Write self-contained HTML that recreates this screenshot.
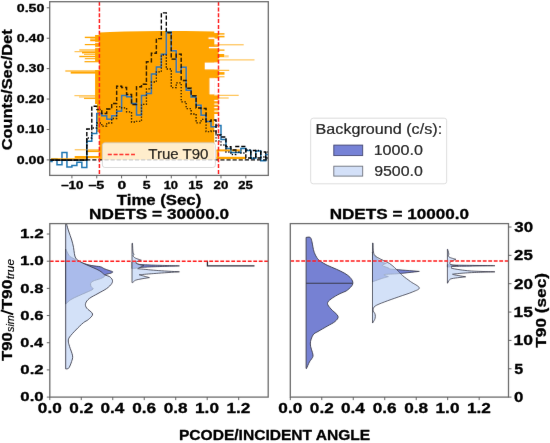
<!DOCTYPE html><html><head><meta charset="utf-8"><style>html,body{margin:0;padding:0;background:#fff;overflow:hidden}svg{will-change:transform}</style></head><body><svg width="550" height="443" viewBox="0 0 550 443" style="display:block">
<rect width="550" height="443" fill="#fff"/>
<defs><filter id="bl" x="0" y="0" width="550" height="443" filterUnits="userSpaceOnUse"><feConvolveMatrix order="3" kernelMatrix="0.00163 0.03713 0.00163 0.03713 0.84497 0.03713 0.00163 0.03713 0.00163" edgeMode="duplicate"/></filter><clipPath id="ctop"><rect x="49.7" y="1.7" width="218.60000000000002" height="173.70000000000002"/></clipPath><clipPath id="cbl"><rect x="49.8" y="223.6" width="218.39999999999998" height="173.50000000000003"/></clipPath><clipPath id="cbr"><rect x="290.3" y="223.6" width="218.2" height="173.50000000000003"/></clipPath></defs>
<g filter="url(#bl)">
<g clip-path="url(#ctop)">
<path d="M95.1,61.5 L95.1,34.9 L99.5,34.9 L99.5,32.6 L110,31.9 L125,31.4 L160,31.0 L185,30.9 L200,31.2 L214.3,31.6 L214.3,160 L99.4,160 L99.4,132 L97.0,132 L97.0,104 L95.1,104 L95.1,70.1 L99.4,70.1 L99.4,61.5Z" fill="#ffa500"/>
<rect x="214.0" y="33.2" width="4.599999999999994" height="5.399999999999999" fill="#ffa500" fill-opacity="1"/>
<rect x="214.0" y="45.2" width="4.599999999999994" height="17.4" fill="#ffa500" fill-opacity="1"/>
<rect x="214.0" y="69.4" width="4.599999999999994" height="8.799999999999997" fill="#ffa500" fill-opacity="1"/>
<rect x="214.0" y="96.0" width="4.599999999999994" height="18.0" fill="#ffa500" fill-opacity="1"/>
<rect x="208.5" y="37.5" width="6.300000000000011" height="1.3999999999999986" fill="#fff"/>
<rect x="209" y="47.0" width="9.599999999999994" height="1.2999999999999972" fill="#fff"/>
<rect x="204.8" y="62.6" width="13.799999999999983" height="6.800000000000004" fill="#fff"/>
<rect x="209.5" y="78.2" width="5.300000000000011" height="16.200000000000003" fill="#fff"/>
<rect x="214.3" y="100" width="4.299999999999983" height="1.2000000000000028" fill="#fff"/>
<rect x="214.3" y="103.5" width="4.299999999999983" height="1.2000000000000028" fill="#fff"/>
<rect x="214.3" y="107" width="4.299999999999983" height="1.2000000000000028" fill="#fff"/>
<rect x="214.3" y="110.5" width="4.299999999999983" height="1.2000000000000028" fill="#fff"/>
<rect x="90" y="42.2" width="9.400000000000006" height="0.7999999999999972" fill="#fff"/>
<rect x="92" y="47.2" width="7.400000000000006" height="0.7999999999999972" fill="#fff"/>
<rect x="214" y="33.20" width="10.5" height="1.4" fill="#ffa500" fill-opacity="1"/>
<rect x="214" y="35.80" width="10.5" height="1.6" fill="#ffa500" fill-opacity="1"/>
<rect x="214" y="44.30" width="29.69999999999999" height="1.0" fill="#ffa500" fill-opacity="0.8"/>
<rect x="214" y="49.45" width="10.5" height="1.3" fill="#ffa500" fill-opacity="1"/>
<rect x="214" y="54.00" width="10.199999999999989" height="3.2" fill="#ffa500" fill-opacity="1"/>
<rect x="224.2" y="55.20" width="4.5" height="2.2" fill="#ffa500" fill-opacity="0.45"/>
<rect x="214" y="59.40" width="40.5" height="1.0" fill="#ffa500" fill-opacity="0.75"/>
<rect x="214" y="69.80" width="15.199999999999989" height="1.0" fill="#ffa500" fill-opacity="0.9"/>
<rect x="214" y="72.10" width="10.5" height="2.6" fill="#ffa500" fill-opacity="1"/>
<rect x="214" y="76.30" width="10.5" height="1.0" fill="#ffa500" fill-opacity="0.9"/>
<rect x="214" y="94.80" width="24.69999999999999" height="1.0" fill="#ffa500" fill-opacity="0.8"/>
<rect x="214" y="97.50" width="14.699999999999989" height="1.0" fill="#ffa500" fill-opacity="0.8"/>
<rect x="216.5" y="149.40" width="25.5" height="2.0" fill="#ffa500" fill-opacity="1"/>
<rect x="216.5" y="156.80" width="29.30000000000001" height="2.2" fill="#ffa500" fill-opacity="1"/>
<rect x="84.8" y="36.70" width="11.200000000000003" height="1.4" fill="#ffa500" fill-opacity="1"/>
<rect x="90.2" y="38.20" width="5.799999999999997" height="1.0" fill="#ffa500" fill-opacity="0.7"/>
<rect x="90.2" y="39.30" width="5.799999999999997" height="2.0" fill="#ffa500" fill-opacity="1"/>
<rect x="84.8" y="44.00" width="11.200000000000003" height="1.2" fill="#ffa500" fill-opacity="1"/>
<rect x="79.3" y="49.45" width="16.700000000000003" height="1.1" fill="#ffa500" fill-opacity="1"/>
<rect x="74.5" y="51.20" width="21.5" height="1.0" fill="#ffa500" fill-opacity="0.8"/>
<rect x="82" y="51.80" width="14" height="1.6" fill="#ffa500" fill-opacity="1"/>
<rect x="84" y="53.90" width="12" height="1.0" fill="#ffa500" fill-opacity="0.8"/>
<rect x="79.3" y="55.80" width="16.700000000000003" height="1.4" fill="#ffa500" fill-opacity="1"/>
<rect x="84.8" y="58.20" width="11.200000000000003" height="1.0" fill="#ffa500" fill-opacity="1"/>
<rect x="84.5" y="61.10" width="15.5" height="1.2" fill="#ffa500" fill-opacity="1"/>
<rect x="65.3" y="70.45" width="30.700000000000003" height="1.1" fill="#ffa500" fill-opacity="1"/>
<rect x="70.7" y="71.60" width="25.299999999999997" height="2.0" fill="#ffa500" fill-opacity="1"/>
<rect x="74.4" y="95.20" width="21.599999999999994" height="1.0" fill="#ffa500" fill-opacity="0.75"/>
<rect x="79" y="96.50" width="17" height="1.0" fill="#ffa500" fill-opacity="0.7"/>
<rect x="84" y="97.75" width="12" height="1.3" fill="#ffa500" fill-opacity="0.9"/>
<rect x="74.7" y="149.30" width="25.299999999999997" height="1.0" fill="#ffa500" fill-opacity="0.8"/>
<rect x="87" y="150.30" width="13" height="1.8" fill="#ffa500" fill-opacity="1"/>
<rect x="74.7" y="156.00" width="25.299999999999997" height="2.2" fill="#ffa500" fill-opacity="1"/>
<rect x="216.5" y="150" width="2.5" height="9" fill="#ffa500"/>
<rect x="99.5" y="34.9" width="0" height="0" fill="#ffa500"/>
<path d="M49.55,161.60 H52.03 V158.90 H57.00 V164.70 H61.97 V152.40 H66.94 V167.10 H71.91 V165.40 H76.88 V162.20 H81.85 V167.60 H86.82 V141.30 H91.79 V133.60 H96.75 V113.50 H101.72 V115.80 H106.69 V119.20 H111.66 V115.80 H116.63 V111.20 H121.60 V95.50 H126.57 V96.80 H131.54 V103.50 H136.51 V115.00 H141.48 V95.60 H146.44 V93.50 H151.41 V73.90 H156.38 V67.10 H161.35 V54.20 H166.32 V32.10 H171.29 V50.80 H176.26 V72.00 H181.23 V67.30 H186.20 V90.30 H191.17 V97.10 H196.13 V105.20 H201.10 V115.30 H206.07 V121.40 H211.04 V126.80 H216.01 V125.50 H220.98 V139.50 H225.95 V148.60 H230.92 V152.50 H235.89 V152.50 H240.86 V148.60 H245.82 V150.50 H250.79 V158.20 H255.76 V151.00 H260.73 V160.70 H265.70 V154.40 H269.18" stroke="#1f77b4" stroke-width="1.5" fill="none"/>
<path d="M49.55,159.9 H269.18" stroke="#000" stroke-width="1.4" stroke-dasharray="4.2 1.9" fill="none"/>
<rect x="51" y="158.1" width="36" height="1.0" fill="#ffa500" fill-opacity="0.8"/>
<path d="M49.7,159.9 H86.82" stroke="#000" stroke-width="1.5" fill="none"/>
<path d="M49.55,159.90 H86.82 V138.00 H91.79 V128.00 H96.75 V123.00 H101.72 V126.20 H106.69 V123.00 H111.66 V118.50 H116.63 V106.70 H121.60 V107.80 H126.57 V111.80 H131.54 V122.00 H136.51 V121.30 H141.48 V104.40 H146.44 V88.80 H151.41 V82.00 H156.38 V71.80 H161.35 V55.00 H166.32 V69.00 H171.29 V87.60 H176.26 V82.90 H181.23 V101.80 H186.20 V108.60 H191.17 V114.00 H196.13 V122.80 H201.10 V119.40 H206.07 V131.60 H211.04 V131.00 H216.01 V141.00 H220.98 V145.00 H225.95 V152.00 H230.92 V154.50 H235.89 V152.00 H240.86 V153.00 H245.82 V150.00 H250.79 V158.00 H255.76 V150.50 H260.73 V157.00 H265.70 V152.00 H269.18" stroke="#000" stroke-width="1.3" stroke-dasharray="1.3 1.7" fill="none"/>
<path d="M49.55,159.90 H86.82 V129.00 H91.79 V106.30 H96.75 V109.50 H101.72 V113.50 H106.69 V109.00 H111.66 V103.50 H116.63 V86.30 H121.60 V87.50 H126.57 V94.50 H131.54 V104.50 H136.51 V86.70 H141.48 V84.30 H146.44 V61.70 H151.41 V53.20 H156.38 V38.60 H161.35 V12.90 H166.32 V32.80 H171.29 V59.10 H176.26 V54.10 H181.23 V80.50 H186.20 V88.30 H191.17 V95.70 H196.13 V108.00 H201.10 V108.50 H206.07 V121.40 H211.04 V120.00 H216.01 V135.00 H220.98 V137.00 H225.95 V146.80 H230.92 V150.00 H235.89 V146.50 H240.86 V146.50 H245.82 V158.00 H250.79 V150.50 H255.76 V158.00 H260.73 V152.00 H265.70 V158.00 H269.18" stroke="#000" stroke-width="1.4" stroke-dasharray="4.2 1.9" fill="none"/>
<path d="M99.4,1.7 V175.4" stroke="#ff1a1a" stroke-width="1.5" stroke-dasharray="4 1.8" fill="none"/>
<path d="M218.5,1.7 V175.4" stroke="#ff1a1a" stroke-width="1.5" stroke-dasharray="4 1.8" fill="none"/>
</g>
<rect x="102.4" y="142.8" width="113" height="24.7" rx="2.5" fill="#fff" fill-opacity="0.8" stroke="#cccccc" stroke-opacity="0.8" stroke-width="0.9"/>
<path d="M107.8,154.4 H136.8" stroke="#ff1a1a" stroke-width="1.5" stroke-dasharray="4 1.8"/>
<text transform="translate(148.26,159.20) scale(1.0064,1)" style="font-family:'Liberation Sans', sans-serif;font-size:14.971px;font-weight:normal;font-style:normal;stroke:#000;stroke-width:0.150px;stroke-linejoin:round" fill="#000">True T90</text>
<rect x="49.7" y="1.7" width="218.60000000000002" height="173.70000000000002" fill="none" stroke="#6e6e6e" stroke-width="1.3"/>
<path d="M46.7,159.90 H49.7" stroke="#555" stroke-width="0.9"/>
<text transform="translate(16.74,163.60) scale(1.3397,1)" style="font-family:'Liberation Sans', sans-serif;font-size:10.602px;font-weight:bold;font-style:normal;stroke:#000;stroke-width:0.300px;stroke-linejoin:round" fill="#000">0.00</text>
<path d="M46.7,129.48 H49.7" stroke="#555" stroke-width="0.9"/>
<text transform="translate(16.74,133.18) scale(1.3397,1)" style="font-family:'Liberation Sans', sans-serif;font-size:10.602px;font-weight:bold;font-style:normal;stroke:#000;stroke-width:0.300px;stroke-linejoin:round" fill="#000">0.10</text>
<path d="M46.7,99.06 H49.7" stroke="#555" stroke-width="0.9"/>
<text transform="translate(16.74,102.76) scale(1.3397,1)" style="font-family:'Liberation Sans', sans-serif;font-size:10.602px;font-weight:bold;font-style:normal;stroke:#000;stroke-width:0.300px;stroke-linejoin:round" fill="#000">0.20</text>
<path d="M46.7,68.64 H49.7" stroke="#555" stroke-width="0.9"/>
<text transform="translate(16.74,72.34) scale(1.3397,1)" style="font-family:'Liberation Sans', sans-serif;font-size:10.602px;font-weight:bold;font-style:normal;stroke:#000;stroke-width:0.300px;stroke-linejoin:round" fill="#000">0.30</text>
<path d="M46.7,38.22 H49.7" stroke="#555" stroke-width="0.9"/>
<text transform="translate(16.74,41.92) scale(1.3397,1)" style="font-family:'Liberation Sans', sans-serif;font-size:10.602px;font-weight:bold;font-style:normal;stroke:#000;stroke-width:0.300px;stroke-linejoin:round" fill="#000">0.40</text>
<path d="M46.7,7.80 H49.7" stroke="#555" stroke-width="0.9"/>
<text transform="translate(16.74,11.50) scale(1.3397,1)" style="font-family:'Liberation Sans', sans-serif;font-size:10.602px;font-weight:bold;font-style:normal;stroke:#000;stroke-width:0.300px;stroke-linejoin:round" fill="#000">0.50</text>
<path d="M71.91,175.4 V178.4" stroke="#555" stroke-width="0.9"/>
<text transform="translate(60.64,189.20) scale(1.2976,1)" style="font-family:'Liberation Sans', sans-serif;font-size:10.315px;font-weight:bold;font-style:normal;stroke:#000;stroke-width:0.300px;stroke-linejoin:round" fill="#000">−10</text>
<path d="M96.75,175.4 V178.4" stroke="#555" stroke-width="0.9"/>
<text transform="translate(87.91,189.20) scale(1.3852,1)" style="font-family:'Liberation Sans', sans-serif;font-size:10.315px;font-weight:bold;font-style:normal;stroke:#000;stroke-width:0.300px;stroke-linejoin:round" fill="#000">−5</text>
<path d="M121.60,175.4 V178.4" stroke="#555" stroke-width="0.9"/>
<text transform="translate(117.38,189.20) scale(1.5084,1)" style="font-family:'Liberation Sans', sans-serif;font-size:10.315px;font-weight:bold;font-style:normal;stroke:#000;stroke-width:0.300px;stroke-linejoin:round" fill="#000">0</text>
<path d="M146.44,175.4 V178.4" stroke="#555" stroke-width="0.9"/>
<text transform="translate(142.87,189.20) scale(1.3639,1)" style="font-family:'Liberation Sans', sans-serif;font-size:10.315px;font-weight:bold;font-style:normal;stroke:#000;stroke-width:0.300px;stroke-linejoin:round" fill="#000">5</text>
<path d="M171.29,175.4 V178.4" stroke="#555" stroke-width="0.9"/>
<text transform="translate(163.69,189.20) scale(1.2499,1)" style="font-family:'Liberation Sans', sans-serif;font-size:10.315px;font-weight:bold;font-style:normal;stroke:#000;stroke-width:0.300px;stroke-linejoin:round" fill="#000">10</text>
<path d="M196.13,175.4 V178.4" stroke="#555" stroke-width="0.9"/>
<text transform="translate(188.27,189.20) scale(1.2812,1)" style="font-family:'Liberation Sans', sans-serif;font-size:10.315px;font-weight:bold;font-style:normal;stroke:#000;stroke-width:0.300px;stroke-linejoin:round" fill="#000">15</text>
<path d="M220.98,175.4 V178.4" stroke="#555" stroke-width="0.9"/>
<text transform="translate(213.54,189.20) scale(1.2812,1)" style="font-family:'Liberation Sans', sans-serif;font-size:10.315px;font-weight:bold;font-style:normal;stroke:#000;stroke-width:0.300px;stroke-linejoin:round" fill="#000">20</text>
<path d="M245.82,175.4 V178.4" stroke="#555" stroke-width="0.9"/>
<text transform="translate(238.14,189.20) scale(1.2744,1)" style="font-family:'Liberation Sans', sans-serif;font-size:10.315px;font-weight:bold;font-style:normal;stroke:#000;stroke-width:0.300px;stroke-linejoin:round" fill="#000">25</text>
<text transform="translate(116.81,204.90) scale(1.1775,1)" style="font-family:'Liberation Sans', sans-serif;font-size:14.244px;font-weight:bold;font-style:normal;stroke:#000;stroke-width:0.300px;stroke-linejoin:round" fill="#000">Time (Sec)</text>
<text transform="translate(11.70,150.27) rotate(-90) scale(1.1376,1)" style="font-family:'Liberation Sans', sans-serif;font-size:14.390px;font-weight:bold;font-style:normal;stroke:#000;stroke-width:0.300px;stroke-linejoin:round" fill="#000">Counts/Sec/Det</text>
<rect x="310.7" y="118.2" width="136" height="65.6" rx="2.5" fill="#fff" stroke="#d9d9d9" stroke-width="0.9"/>
<text transform="translate(315.57,133.80) scale(1.1351,1)" style="font-family:'Liberation Sans', sans-serif;font-size:14.244px;font-weight:normal;font-style:normal;stroke:#000;stroke-width:0.150px;stroke-linejoin:round" fill="#000">Background (c/s):</text>
<rect x="333.8" y="145.1" width="28.9" height="10.5" fill="#7682d6" stroke="#3b3f6e" stroke-width="0.9"/>
<rect x="333.8" y="166.2" width="28.9" height="9.9" fill="#d3e0f8" stroke="#6b6f7a" stroke-width="0.9"/>
<text transform="translate(373.67,155.30) scale(1.1588,1)" style="font-family:'Liberation Sans', sans-serif;font-size:13.897px;font-weight:normal;font-style:normal;stroke:#000;stroke-width:0.150px;stroke-linejoin:round" fill="#000">1000.0</text>
<text transform="translate(374.15,175.80) scale(1.1474,1)" style="font-family:'Liberation Sans', sans-serif;font-size:13.897px;font-weight:normal;font-style:normal;stroke:#000;stroke-width:0.150px;stroke-linejoin:round" fill="#000">9500.0</text>
<path d="M65.70,249.00 C66.25,250.07 67.85,253.90 69.00,255.40 C70.15,256.90 71.08,257.03 72.60,258.00 C74.12,258.97 76.15,260.25 78.10,261.20 C80.05,262.15 82.02,262.97 84.30,263.70 C86.58,264.43 89.10,265.08 91.80,265.60 C94.50,266.12 98.43,266.28 100.50,266.80 C102.57,267.32 102.75,268.08 104.20,268.70 C105.65,269.32 107.78,269.98 109.20,270.50 C110.62,271.02 112.40,271.37 112.70,271.80 C113.00,272.23 112.20,272.63 111.00,273.10 C109.80,273.57 106.63,274.00 105.50,274.60 C104.37,275.20 105.03,276.03 104.20,276.70 C103.37,277.37 102.37,277.87 100.50,278.60 C98.63,279.33 94.65,280.27 93.00,281.10 C91.35,281.93 90.90,282.67 90.60,283.60 C90.30,284.53 90.80,285.78 91.20,286.70 C91.60,287.62 93.73,288.18 93.00,289.10 C92.27,290.02 89.28,291.05 86.80,292.20 C84.32,293.35 80.78,294.75 78.10,296.00 C75.42,297.25 72.67,298.47 70.70,299.70 C68.73,300.93 67.13,302.68 66.30,303.40 C65.47,304.12 65.80,303.90 65.70,304.00 L65.70,304.00 L65.70,249.00 Z" fill="#3b4cc0" fill-opacity="0.7" stroke="#3a3a48" stroke-width="0.9" stroke-linejoin="round" clip-path="url(#cbl)"/>
<path d="M66.00,220.00 C66.10,220.67 66.17,222.17 66.60,224.00 C67.03,225.83 67.75,228.33 68.60,231.00 C69.45,233.67 70.88,237.28 71.70,240.00 C72.52,242.72 73.05,245.03 73.50,247.30 C73.95,249.57 74.03,251.80 74.40,253.60 C74.77,255.40 74.87,256.83 75.70,258.10 C76.53,259.37 77.55,260.07 79.40,261.20 C81.25,262.33 83.50,263.35 86.80,264.90 C90.10,266.45 96.20,268.83 99.20,270.50 C102.20,272.17 103.13,273.92 104.80,274.90 C106.47,275.88 107.95,275.58 109.20,276.40 C110.45,277.22 111.88,278.60 112.30,279.80 C112.72,281.00 112.63,282.15 111.70,283.60 C110.77,285.05 108.98,286.85 106.70,288.50 C104.42,290.15 100.90,291.83 98.00,293.50 C95.10,295.17 91.37,296.85 89.30,298.50 C87.23,300.15 86.05,301.82 85.60,303.40 C85.15,304.98 85.43,306.23 86.60,308.00 C87.77,309.77 92.30,312.08 92.60,314.00 C92.90,315.92 89.93,318.05 88.40,319.50 C86.87,320.95 85.50,320.95 83.40,322.70 C81.30,324.45 78.10,327.62 75.80,330.00 C73.50,332.38 70.85,335.17 69.60,337.00 C68.35,338.83 68.32,339.45 68.30,341.00 C68.28,342.55 68.78,343.82 69.50,346.30 C70.22,348.78 72.25,353.37 72.60,355.90 C72.95,358.43 72.05,359.82 71.60,361.50 C71.15,363.18 70.43,364.85 69.90,366.00 C69.37,367.15 68.97,367.92 68.40,368.40 C67.83,368.88 66.82,368.82 66.50,368.90 L65.70,368.90 L65.70,220.00 Z" fill="#c0d4f5" fill-opacity="0.7" stroke="#3a3a48" stroke-width="0.9" stroke-linejoin="round" clip-path="url(#cbl)"/>
<path d="M132.00,262.00 C132.67,262.23 134.83,263.02 136.00,263.40 C137.17,263.78 136.67,264.03 139.00,264.30 C141.33,264.57 143.27,264.73 150.00,265.00 C156.73,265.27 179.40,265.90 179.40,265.90 C179.40,265.90 156.57,266.62 150.00,266.90 C143.43,267.18 142.33,267.40 140.00,267.60 C137.67,267.80 137.33,267.93 136.00,268.10 C134.67,268.27 132.67,268.52 132.00,268.60 L132.00,268.60 L132.00,262.00 Z" fill="#3b4cc0" fill-opacity="0.7" stroke="#3a3a48" stroke-width="0.8" stroke-linejoin="round" clip-path="url(#cbl)"/>
<path d="M132.50,243.30 C132.60,244.93 132.82,251.28 133.10,253.10 C133.38,254.92 134.20,253.75 134.20,254.20 C134.20,254.65 132.92,255.17 133.10,255.80 C133.28,256.43 133.93,257.27 135.30,258.00 C136.67,258.73 141.30,260.20 141.30,260.20 C141.30,260.20 136.17,261.68 135.80,262.40 C135.43,263.12 137.73,263.97 139.10,264.50 C140.47,265.03 144.00,265.60 144.00,265.60 C144.00,265.60 141.20,266.80 140.20,267.30 C139.20,267.80 138.00,268.33 138.00,268.60 C138.00,268.87 136.75,268.57 140.20,268.90 C143.65,269.23 152.17,270.12 158.70,270.60 C165.23,271.08 179.40,271.80 179.40,271.80 C179.40,271.80 165.05,272.73 158.70,273.20 C152.35,273.67 144.38,274.30 141.30,274.60 C138.22,274.90 138.85,274.50 140.20,275.00 C141.55,275.50 149.40,277.60 149.40,277.60 C149.40,277.60 139.55,279.10 136.90,279.80 C134.25,280.50 134.23,281.33 133.50,281.80 C132.77,282.27 132.67,282.47 132.50,282.60 L132.00,282.60 L132.00,243.30 Z" fill="#c0d4f5" fill-opacity="0.7" stroke="#3a3a48" stroke-width="0.8" stroke-linejoin="round" clip-path="url(#cbl)"/>
<path d="M207.4,260.8 V265.9 H254.5" stroke="#2e2e3a" stroke-width="1.3" fill="none"/>
<path d="M49.8,261.20 H268.2" stroke="#ff1a1a" stroke-width="1.6" stroke-dasharray="3.8 1.7" fill="none"/>
<path d="M306.10,237.40 C306.78,237.40 309.23,236.72 310.20,237.40 C311.17,238.08 311.45,239.92 311.90,241.50 C312.35,243.08 312.52,245.10 312.90,246.90 C313.28,248.70 313.53,250.50 314.20,252.30 C314.87,254.10 315.88,256.23 316.90,257.70 C317.92,259.17 318.60,259.85 320.30,261.10 C322.00,262.35 324.38,263.83 327.10,265.20 C329.82,266.57 333.67,267.95 336.60,269.30 C339.53,270.65 342.45,271.95 344.70,273.30 C346.95,274.65 348.75,275.93 350.10,277.40 C351.45,278.87 352.57,280.63 352.80,282.10 C353.03,283.57 352.62,284.72 351.50,286.20 C350.38,287.68 348.02,289.77 346.10,291.00 C344.18,292.23 342.52,292.27 340.00,293.60 C337.48,294.93 333.08,297.35 331.00,299.00 C328.92,300.65 327.50,301.83 327.50,303.50 C327.50,305.17 329.25,306.88 331.00,309.00 C332.75,311.12 337.33,314.12 338.00,316.20 C338.67,318.28 336.75,319.87 335.00,321.50 C333.25,323.13 330.33,324.33 327.50,326.00 C324.67,327.67 320.42,330.00 318.00,331.50 C315.58,333.00 314.28,332.92 313.00,335.00 C311.72,337.08 310.30,340.67 310.30,344.00 C310.30,347.33 312.80,352.50 313.00,355.00 C313.20,357.50 312.10,357.83 311.50,359.00 C310.90,360.17 310.23,360.42 309.40,362.00 C308.57,363.58 306.98,367.42 306.50,368.50 L306.10,368.50 L306.10,237.40 Z" fill="#3b4cc0" fill-opacity="0.7" stroke="#3a3a48" stroke-width="0.9" stroke-linejoin="round" clip-path="url(#cbr)"/>
<path d="M306.1,283.2 H352.8" stroke="#3a3a48" stroke-width="1.1"/>
<path d="M372.50,252.00 C372.60,252.38 371.82,252.73 373.10,254.30 C374.38,255.87 378.00,259.88 380.20,261.40 C382.40,262.92 386.30,263.40 386.30,263.40 C386.30,263.40 381.95,264.63 382.30,265.40 C382.65,266.17 387.12,267.40 388.40,268.00 C389.68,268.60 388.65,268.73 390.00,269.00 C391.35,269.27 391.62,269.20 396.50,269.60 C401.38,270.00 419.30,271.40 419.30,271.40 C419.30,271.40 404.83,273.07 399.00,273.60 C393.17,274.13 386.07,274.10 384.30,274.60 C382.53,275.10 388.40,276.60 388.40,276.60 C388.40,276.60 383.58,277.93 381.20,278.70 C378.82,279.47 375.55,280.65 374.10,281.20 C372.65,281.75 372.77,281.87 372.50,282.00 L372.50,282.00 L372.50,252.00 Z" fill="#3b4cc0" fill-opacity="0.7" stroke="#3a3a48" stroke-width="0.8" stroke-linejoin="round" clip-path="url(#cbr)"/>
<path d="M373.10,243.10 C373.20,244.78 373.02,250.83 373.70,253.20 C374.38,255.57 375.60,256.10 377.20,257.30 C378.80,258.50 381.27,259.38 383.30,260.40 C385.33,261.42 387.53,262.22 389.40,263.40 C391.27,264.58 392.98,266.15 394.50,267.50 C396.02,268.85 397.15,270.15 398.50,271.50 C399.85,272.85 400.57,273.90 402.60,275.60 C404.63,277.30 407.92,279.67 410.70,281.70 C413.48,283.73 418.97,286.10 419.30,287.80 C419.63,289.50 416.17,290.38 412.70,291.90 C409.23,293.42 403.23,295.22 398.50,296.90 C393.77,298.58 388.20,300.47 384.30,302.00 C380.40,303.53 376.97,304.73 375.10,306.10 C373.23,307.47 373.10,308.85 373.10,310.20 C373.10,311.55 374.77,312.85 375.10,314.20 C375.43,315.55 375.43,316.95 375.10,318.30 C374.77,319.65 373.53,321.52 373.10,322.30 C372.67,323.08 372.60,322.88 372.50,323.00 L372.50,323.00 L372.50,243.10 Z" fill="#c0d4f5" fill-opacity="0.7" stroke="#3a3a48" stroke-width="0.8" stroke-linejoin="round" clip-path="url(#cbr)"/>
<path d="M447.40,264.60 C448.17,264.67 450.23,264.90 452.00,265.00 C453.77,265.10 450.85,265.08 458.00,265.20 C465.15,265.32 494.90,265.70 494.90,265.70 C494.90,265.70 465.15,266.15 458.00,266.30 C450.85,266.45 453.77,266.48 452.00,266.60 C450.23,266.72 448.17,266.93 447.40,267.00 L447.40,267.00 L447.40,264.60 Z" fill="#3b4cc0" fill-opacity="0.7" stroke="#3a3a48" stroke-width="0.8" stroke-linejoin="round" clip-path="url(#cbr)"/>
<path d="M447.60,249.20 C447.67,249.42 447.78,249.67 448.00,250.50 C448.22,251.33 448.85,253.32 448.90,254.20 C448.95,255.08 448.12,255.25 448.30,255.80 C448.48,256.35 448.72,256.92 450.00,257.50 C451.28,258.08 456.00,259.30 456.00,259.30 C456.00,259.30 452.03,260.80 451.00,261.50 C449.97,262.20 449.63,262.92 449.80,263.50 C449.97,264.08 450.63,264.65 452.00,265.00 C453.37,265.35 458.00,265.60 458.00,265.60 C458.00,265.60 453.08,266.08 452.00,266.40 C450.92,266.72 451.33,267.13 451.50,267.50 C451.67,267.87 449.92,268.03 453.00,268.60 C456.08,269.17 463.02,270.37 470.00,270.90 C476.98,271.43 494.90,271.80 494.90,271.80 C494.90,271.80 476.65,272.35 470.00,272.70 C463.35,273.05 457.75,273.58 455.00,273.90 C452.25,274.22 451.72,274.12 453.50,274.60 C455.28,275.08 465.70,276.80 465.70,276.80 C465.70,276.80 454.78,277.98 452.00,278.60 C449.22,279.22 449.73,279.73 449.00,280.50 C448.27,281.27 447.83,282.75 447.60,283.20 L447.40,283.20 L447.40,249.20 Z" fill="#c0d4f5" fill-opacity="0.7" stroke="#3a3a48" stroke-width="0.8" stroke-linejoin="round" clip-path="url(#cbr)"/>
<path d="M290.3,261.02 H508.5" stroke="#ff1a1a" stroke-width="1.6" stroke-dasharray="3.8 1.7" fill="none"/>
<rect x="49.8" y="223.6" width="218.39999999999998" height="173.50000000000003" fill="none" stroke="#6e6e6e" stroke-width="1.3"/>
<path d="M49.80,397.1 V400.1" stroke="#555" stroke-width="0.9"/>
<text transform="translate(37.86,413.40) scale(1.2500,1)" style="font-family:'Liberation Sans', sans-serif;font-size:13.754px;font-weight:bold;font-style:normal;stroke:#000;stroke-width:0.300px;stroke-linejoin:round" fill="#000">0.0</text>
<path d="M81.28,397.1 V400.1" stroke="#555" stroke-width="0.9"/>
<text transform="translate(69.33,413.40) scale(1.2500,1)" style="font-family:'Liberation Sans', sans-serif;font-size:13.754px;font-weight:bold;font-style:normal;stroke:#000;stroke-width:0.300px;stroke-linejoin:round" fill="#000">0.2</text>
<path d="M112.76,397.1 V400.1" stroke="#555" stroke-width="0.9"/>
<text transform="translate(100.52,413.40) scale(1.2500,1)" style="font-family:'Liberation Sans', sans-serif;font-size:13.754px;font-weight:bold;font-style:normal;stroke:#000;stroke-width:0.300px;stroke-linejoin:round" fill="#000">0.4</text>
<path d="M144.24,397.1 V400.1" stroke="#555" stroke-width="0.9"/>
<text transform="translate(132.26,413.40) scale(1.2500,1)" style="font-family:'Liberation Sans', sans-serif;font-size:13.754px;font-weight:bold;font-style:normal;stroke:#000;stroke-width:0.300px;stroke-linejoin:round" fill="#000">0.6</text>
<path d="M175.72,397.1 V400.1" stroke="#555" stroke-width="0.9"/>
<text transform="translate(163.69,413.40) scale(1.2500,1)" style="font-family:'Liberation Sans', sans-serif;font-size:13.754px;font-weight:bold;font-style:normal;stroke:#000;stroke-width:0.300px;stroke-linejoin:round" fill="#000">0.8</text>
<path d="M207.20,397.1 V400.1" stroke="#555" stroke-width="0.9"/>
<text transform="translate(195.06,413.40) scale(1.2500,1)" style="font-family:'Liberation Sans', sans-serif;font-size:13.754px;font-weight:bold;font-style:normal;stroke:#000;stroke-width:0.300px;stroke-linejoin:round" fill="#000">1.0</text>
<path d="M238.68,397.1 V400.1" stroke="#555" stroke-width="0.9"/>
<text transform="translate(226.53,413.40) scale(1.2500,1)" style="font-family:'Liberation Sans', sans-serif;font-size:13.754px;font-weight:bold;font-style:normal;stroke:#000;stroke-width:0.300px;stroke-linejoin:round" fill="#000">1.2</text>
<rect x="290.3" y="223.6" width="218.2" height="173.50000000000003" fill="none" stroke="#6e6e6e" stroke-width="1.3"/>
<path d="M290.30,397.1 V400.1" stroke="#555" stroke-width="0.9"/>
<text transform="translate(278.36,413.40) scale(1.2500,1)" style="font-family:'Liberation Sans', sans-serif;font-size:13.754px;font-weight:bold;font-style:normal;stroke:#000;stroke-width:0.300px;stroke-linejoin:round" fill="#000">0.0</text>
<path d="M321.78,397.1 V400.1" stroke="#555" stroke-width="0.9"/>
<text transform="translate(309.83,413.40) scale(1.2500,1)" style="font-family:'Liberation Sans', sans-serif;font-size:13.754px;font-weight:bold;font-style:normal;stroke:#000;stroke-width:0.300px;stroke-linejoin:round" fill="#000">0.2</text>
<path d="M353.26,397.1 V400.1" stroke="#555" stroke-width="0.9"/>
<text transform="translate(341.02,413.40) scale(1.2500,1)" style="font-family:'Liberation Sans', sans-serif;font-size:13.754px;font-weight:bold;font-style:normal;stroke:#000;stroke-width:0.300px;stroke-linejoin:round" fill="#000">0.4</text>
<path d="M384.74,397.1 V400.1" stroke="#555" stroke-width="0.9"/>
<text transform="translate(372.76,413.40) scale(1.2500,1)" style="font-family:'Liberation Sans', sans-serif;font-size:13.754px;font-weight:bold;font-style:normal;stroke:#000;stroke-width:0.300px;stroke-linejoin:round" fill="#000">0.6</text>
<path d="M416.22,397.1 V400.1" stroke="#555" stroke-width="0.9"/>
<text transform="translate(404.19,413.40) scale(1.2500,1)" style="font-family:'Liberation Sans', sans-serif;font-size:13.754px;font-weight:bold;font-style:normal;stroke:#000;stroke-width:0.300px;stroke-linejoin:round" fill="#000">0.8</text>
<path d="M447.70,397.1 V400.1" stroke="#555" stroke-width="0.9"/>
<text transform="translate(435.56,413.40) scale(1.2500,1)" style="font-family:'Liberation Sans', sans-serif;font-size:13.754px;font-weight:bold;font-style:normal;stroke:#000;stroke-width:0.300px;stroke-linejoin:round" fill="#000">1.0</text>
<path d="M479.18,397.1 V400.1" stroke="#555" stroke-width="0.9"/>
<text transform="translate(467.03,413.40) scale(1.2500,1)" style="font-family:'Liberation Sans', sans-serif;font-size:13.754px;font-weight:bold;font-style:normal;stroke:#000;stroke-width:0.300px;stroke-linejoin:round" fill="#000">1.2</text>
<path d="M46.8,397.10 H49.8" stroke="#555" stroke-width="0.9"/>
<text transform="translate(20.34,401.30) scale(1.2474,1)" style="font-family:'Liberation Sans', sans-serif;font-size:13.467px;font-weight:bold;font-style:normal;stroke:#000;stroke-width:0.300px;stroke-linejoin:round" fill="#000">0.0</text>
<path d="M46.8,369.92 H49.8" stroke="#555" stroke-width="0.9"/>
<text transform="translate(20.34,374.12) scale(1.2465,1)" style="font-family:'Liberation Sans', sans-serif;font-size:13.467px;font-weight:bold;font-style:normal;stroke:#000;stroke-width:0.300px;stroke-linejoin:round" fill="#000">0.2</text>
<path d="M46.8,342.74 H49.8" stroke="#555" stroke-width="0.9"/>
<text transform="translate(20.35,346.94) scale(1.2144,1)" style="font-family:'Liberation Sans', sans-serif;font-size:13.467px;font-weight:bold;font-style:normal;stroke:#000;stroke-width:0.300px;stroke-linejoin:round" fill="#000">0.4</text>
<path d="M46.8,315.56 H49.8" stroke="#555" stroke-width="0.9"/>
<text transform="translate(20.34,319.76) scale(1.2428,1)" style="font-family:'Liberation Sans', sans-serif;font-size:13.467px;font-weight:bold;font-style:normal;stroke:#000;stroke-width:0.300px;stroke-linejoin:round" fill="#000">0.6</text>
<path d="M46.8,288.38 H49.8" stroke="#555" stroke-width="0.9"/>
<text transform="translate(20.34,292.58) scale(1.2378,1)" style="font-family:'Liberation Sans', sans-serif;font-size:13.467px;font-weight:bold;font-style:normal;stroke:#000;stroke-width:0.300px;stroke-linejoin:round" fill="#000">0.8</text>
<path d="M46.8,261.20 H49.8" stroke="#555" stroke-width="0.9"/>
<text transform="translate(19.92,265.40) scale(1.2702,1)" style="font-family:'Liberation Sans', sans-serif;font-size:13.467px;font-weight:bold;font-style:normal;stroke:#000;stroke-width:0.300px;stroke-linejoin:round" fill="#000">1.0</text>
<path d="M46.8,234.02 H49.8" stroke="#555" stroke-width="0.9"/>
<text transform="translate(19.92,238.22) scale(1.2692,1)" style="font-family:'Liberation Sans', sans-serif;font-size:13.467px;font-weight:bold;font-style:normal;stroke:#000;stroke-width:0.300px;stroke-linejoin:round" fill="#000">1.2</text>
<path d="M508.5,397.10 H511.5" stroke="#555" stroke-width="0.9"/>
<text transform="translate(514.03,401.90) scale(1.2231,1)" style="font-family:'Liberation Sans', sans-serif;font-size:13.754px;font-weight:bold;font-style:normal;stroke:#000;stroke-width:0.300px;stroke-linejoin:round" fill="#000">0</text>
<path d="M508.5,368.75 H511.5" stroke="#555" stroke-width="0.9"/>
<text transform="translate(514.21,373.55) scale(1.1690,1)" style="font-family:'Liberation Sans', sans-serif;font-size:13.754px;font-weight:bold;font-style:normal;stroke:#000;stroke-width:0.300px;stroke-linejoin:round" fill="#000">5</text>
<path d="M508.5,340.40 H511.5" stroke="#555" stroke-width="0.9"/>
<text transform="translate(513.59,345.20) scale(1.2763,1)" style="font-family:'Liberation Sans', sans-serif;font-size:13.754px;font-weight:bold;font-style:normal;stroke:#000;stroke-width:0.300px;stroke-linejoin:round" fill="#000">10</text>
<path d="M508.5,312.05 H511.5" stroke="#555" stroke-width="0.9"/>
<text transform="translate(513.61,316.85) scale(1.2599,1)" style="font-family:'Liberation Sans', sans-serif;font-size:13.754px;font-weight:bold;font-style:normal;stroke:#000;stroke-width:0.300px;stroke-linejoin:round" fill="#000">15</text>
<path d="M508.5,283.70 H511.5" stroke="#555" stroke-width="0.9"/>
<text transform="translate(514.11,288.50) scale(1.2415,1)" style="font-family:'Liberation Sans', sans-serif;font-size:13.754px;font-weight:bold;font-style:normal;stroke:#000;stroke-width:0.300px;stroke-linejoin:round" fill="#000">20</text>
<path d="M508.5,255.35 H511.5" stroke="#555" stroke-width="0.9"/>
<text transform="translate(514.12,260.15) scale(1.2259,1)" style="font-family:'Liberation Sans', sans-serif;font-size:13.754px;font-weight:bold;font-style:normal;stroke:#000;stroke-width:0.300px;stroke-linejoin:round" fill="#000">25</text>
<path d="M508.5,227.00 H511.5" stroke="#555" stroke-width="0.9"/>
<text transform="translate(514.31,231.80) scale(1.2276,1)" style="font-family:'Liberation Sans', sans-serif;font-size:13.754px;font-weight:bold;font-style:normal;stroke:#000;stroke-width:0.300px;stroke-linejoin:round" fill="#000">30</text>
<text transform="translate(89.05,218.90) scale(1.2198,1)" style="font-family:'Liberation Sans', sans-serif;font-size:14.099px;font-weight:bold;font-style:normal;stroke:#000;stroke-width:0.300px;stroke-linejoin:round" fill="#000">NDETS = 30000.0</text>
<text transform="translate(329.65,218.90) scale(1.2145,1)" style="font-family:'Liberation Sans', sans-serif;font-size:14.099px;font-weight:bold;font-style:normal;stroke:#000;stroke-width:0.300px;stroke-linejoin:round" fill="#000">NDETS = 10000.0</text>
<text transform="translate(178.96,439.60) scale(1.1165,1)" style="font-family:'Liberation Sans', sans-serif;font-size:13.953px;font-weight:bold;font-style:normal;stroke:#000;stroke-width:0.300px;stroke-linejoin:round" fill="#000">PCODE/INCIDENT ANGLE</text>
<text transform="translate(546.40,347.69) rotate(-90) scale(1.2105,1)" style="font-family:'Liberation Sans', sans-serif;font-size:14.244px;font-weight:bold;font-style:normal;stroke:#000;stroke-width:0.300px;stroke-linejoin:round" fill="#000">T90 (sec)</text>
<text transform="translate(11.50,360.99) rotate(-90) scale(1.1843,1)" style="font-family:'Liberation Sans', sans-serif;font-size:14.099px;font-weight:bold;font-style:normal;stroke:#000;stroke-width:0.300px;stroke-linejoin:round" fill="#000">T90</text>
<text transform="translate(13.90,332.03) rotate(-90) scale(1.0846,1)" style="font-family:'Liberation Sans', sans-serif;font-size:10.038px;font-weight:normal;font-style:italic;stroke:#000;stroke-width:0.150px;stroke-linejoin:round" fill="#000">sim</text>
<path d="M0.8,310.3 L13.2,314.4" stroke="#000" stroke-width="1.9"/>
<text transform="translate(11.50,309.59) rotate(-90) scale(1.2310,1)" style="font-family:'Liberation Sans', sans-serif;font-size:14.099px;font-weight:bold;font-style:normal;stroke:#000;stroke-width:0.300px;stroke-linejoin:round" fill="#000">T90</text>
<text transform="translate(13.90,279.34) rotate(-90) scale(1.1780,1)" style="font-family:'Liberation Sans', sans-serif;font-size:10.038px;font-weight:normal;font-style:italic;stroke:#000;stroke-width:0.150px;stroke-linejoin:round" fill="#000">true</text>
</g>
</svg></body></html>
